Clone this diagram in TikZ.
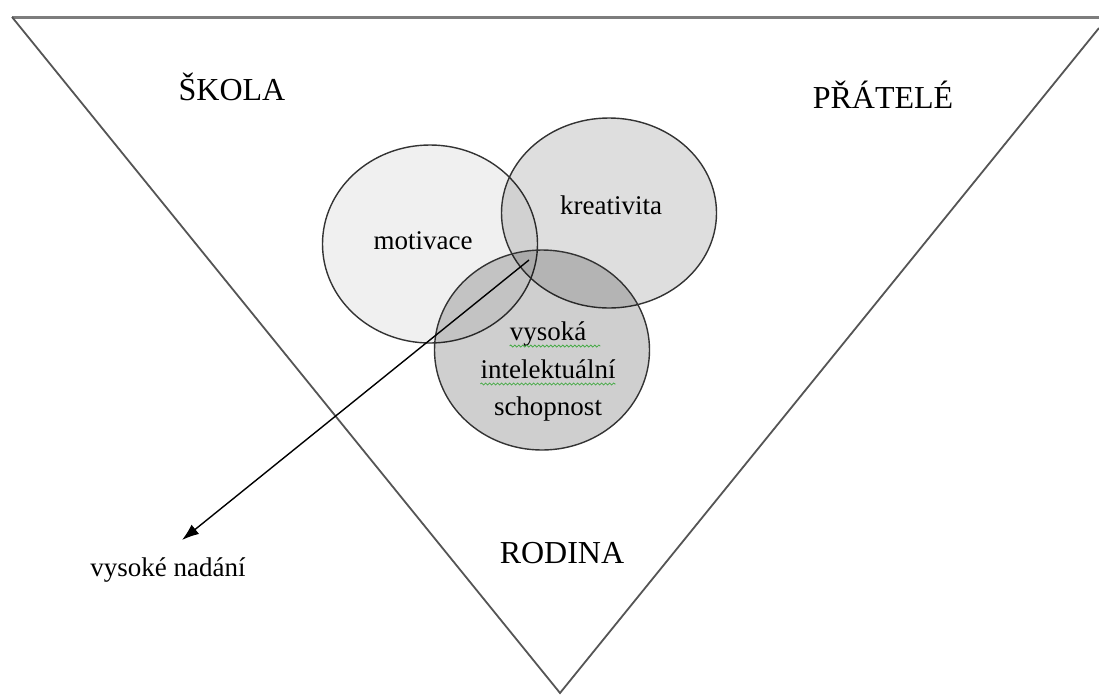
\documentclass[tikz,border=0pt]{standalone}
\usepackage{fontspec}
\setmainfont{Liberation Serif}
\usetikzlibrary{arrows.meta, positioning, shapes.geometric, decorations.pathmorphing}
\definecolor{edgegray}{RGB}{85,85,85}
\definecolor{topgray}{RGB}{125,125,125}
\definecolor{spellgreen}{RGB}{70,170,70}

\begin{document}
\begin{tikzpicture}[x=1pt, y=-1pt,
    ring/.style={ellipse, draw=black!80, line width=1.4pt, fill=black, minimum width=215pt, inner sep=0pt},
    caps/.style={font=\fontsize{32}{38}\selectfont, inner sep=0pt, anchor=base},
    word/.style={font=\fontsize{27}{32}\selectfont, inner sep=0pt, anchor=base},
    spell/.style={spellgreen, line width=0.8pt, decorate, decoration={snake, amplitude=1pt, segment length=4pt}}]
  \useasboundingbox (0,0) rectangle (1099,694);
  % inverted triangle
  \draw[topgray, line width=3pt] (12,17) -- (1099,17);
  \draw[edgegray, line width=1.8pt] (12,17) -- (560,693) -- (1099,28);
  % three circles
  \node[ring, fill opacity=0.06, minimum height=198pt] (motiv) at (430,244) {};
  \node[ring, fill opacity=0.13, minimum height=190pt] (kreat) at (609,213) {};
  \node[ring, fill opacity=0.19, minimum height=200pt] (intel) at (542,350) {};
  \node[word] (motivlbl) at (423,249) {motivace};
  \node[word] (kreatlbl) at (611,214) {kreativita};
  \node[word] (vys) at (548,340) {vysoká};
  \node[word] (intelekt) at (548,378) {intelektuální};
  \node[word] (schop) at (548,415) {schopnost};
  \draw[spell] ([yshift=-6pt]vys.base west) -- ([yshift=-6pt,xshift=14pt]vys.base east);
  \draw[spell] ([yshift=-6pt]intelekt.base west) -- ([yshift=-6pt]intelekt.base east);
  % surroundings
  \node[caps] (school) at (232,100) {ŠKOLA};
  \node[caps] (friends) at (883,108) {PŘÁTELÉ};
  \node[caps] (family) at (562,563) {RODINA};
  % result
  \node[word] (nadani) at (168,576) {vysoké nadání};
  \coordinate (core) at (529,260);
  \coordinate (tip) at (182,540);
  \draw[-{Latex[length=17pt,width=12pt]}, line width=1.4pt] (core) -- (tip);
\end{tikzpicture}
\end{document}
